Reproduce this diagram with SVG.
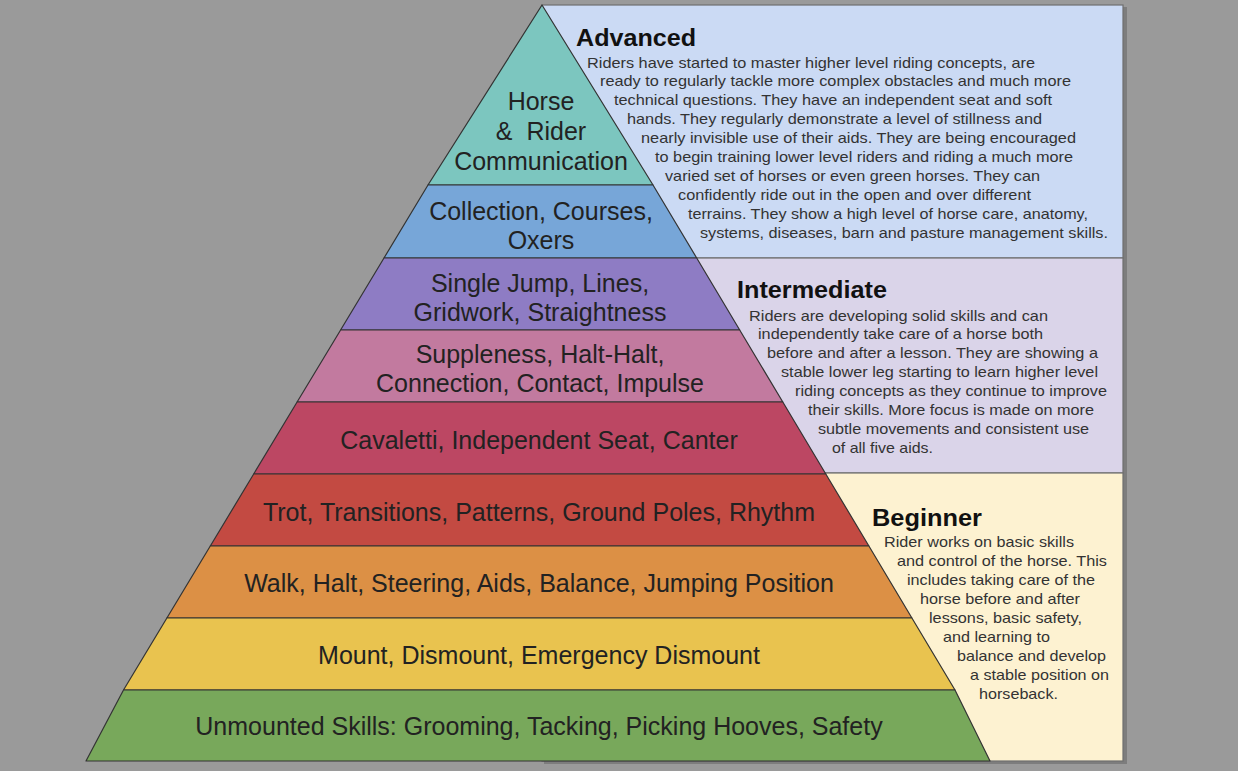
<svg xmlns="http://www.w3.org/2000/svg" width="1238" height="771" viewBox="0 0 1238 771">
<style>
.band{stroke:#333;stroke-width:1.2;stroke-linejoin:round}
.lbl{font-family:"Liberation Sans",Arial,sans-serif;font-size:25px;fill:#222;text-anchor:middle}
.hd{font-family:"Liberation Sans",Arial,sans-serif;font-size:23px;font-weight:bold;fill:#111}
.bd{font-family:"Liberation Sans",Arial,sans-serif;font-size:14.5px;fill:#333}
.panel{stroke:#6f6f6f;stroke-width:1.2}
</style>
<rect x="0" y="0" width="1238" height="771" fill="#9a9a9a"/>
<rect x="544" y="7" width="583" height="757" fill="#7d7d7d"/>
<g id="panel-advanced">
<rect class="panel" x="542" y="5" width="581" height="253" fill="#cbdaf4"/>
<text class="hd" x="576" y="46" textLength="120" lengthAdjust="spacingAndGlyphs">Advanced</text>
<g class="bd">
<text x="587" y="67.5" textLength="448" lengthAdjust="spacingAndGlyphs">Riders have started to master higher level riding concepts, are</text>
<text x="600" y="86.4" textLength="471" lengthAdjust="spacingAndGlyphs">ready to regularly tackle more complex obstacles and much more</text>
<text x="614" y="105.3" textLength="438" lengthAdjust="spacingAndGlyphs">technical questions. They have an independent seat and soft</text>
<text x="627" y="124.2" textLength="415" lengthAdjust="spacingAndGlyphs">hands. They regularly demonstrate a level of stillness and</text>
<text x="641" y="143.1" textLength="435" lengthAdjust="spacingAndGlyphs">nearly invisible use of their aids. They are being encouraged</text>
<text x="655" y="162" textLength="418" lengthAdjust="spacingAndGlyphs">to begin training lower level riders and riding a much more</text>
<text x="665" y="180.9" textLength="375" lengthAdjust="spacingAndGlyphs">varied set of horses or even green horses. They can</text>
<text x="678" y="199.8" textLength="353" lengthAdjust="spacingAndGlyphs">confidently ride out in the open and over different</text>
<text x="688" y="218.7" textLength="400" lengthAdjust="spacingAndGlyphs">terrains. They show a high level of horse care, anatomy,</text>
<text x="700" y="237.6" textLength="408" lengthAdjust="spacingAndGlyphs">systems, diseases, barn and pasture management skills.</text>
</g>
</g>
<g id="panel-intermediate">
<rect class="panel" x="542" y="258" width="581" height="215" fill="#dad4e9"/>
<text class="hd" x="737" y="298" textLength="150" lengthAdjust="spacingAndGlyphs">Intermediate</text>
<g class="bd">
<text x="749" y="320.5" textLength="299" lengthAdjust="spacingAndGlyphs">Riders are developing solid skills and can</text>
<text x="758" y="339.4" textLength="285" lengthAdjust="spacingAndGlyphs">independently take care of a horse both</text>
<text x="767" y="358.3" textLength="331" lengthAdjust="spacingAndGlyphs">before and after a lesson. They are showing a</text>
<text x="781" y="377.2" textLength="317" lengthAdjust="spacingAndGlyphs">stable lower leg starting to learn higher level</text>
<text x="795" y="396.1" textLength="312" lengthAdjust="spacingAndGlyphs">riding concepts as they continue to improve</text>
<text x="808" y="415" textLength="286" lengthAdjust="spacingAndGlyphs">their skills. More focus is made on more</text>
<text x="818" y="433.9" textLength="271" lengthAdjust="spacingAndGlyphs">subtle movements and consistent use</text>
<text x="832" y="452.8" textLength="101" lengthAdjust="spacingAndGlyphs">of all five aids.</text>
</g>
</g>
<g id="panel-beginner">
<rect class="panel" x="542" y="473" width="581" height="288" fill="#fdf2d1"/>
<text class="hd" x="872" y="526" textLength="110" lengthAdjust="spacingAndGlyphs">Beginner</text>
<g class="bd">
<text x="884" y="546.5" textLength="190" lengthAdjust="spacingAndGlyphs">Rider works on basic skills</text>
<text x="897" y="565.5" textLength="210" lengthAdjust="spacingAndGlyphs">and control of the horse. This</text>
<text x="907" y="584.5" textLength="188" lengthAdjust="spacingAndGlyphs">includes taking care of the</text>
<text x="920" y="603.5" textLength="160" lengthAdjust="spacingAndGlyphs">horse before and after</text>
<text x="929" y="622.5" textLength="153" lengthAdjust="spacingAndGlyphs">lessons, basic safety,</text>
<text x="943" y="641.5" textLength="107" lengthAdjust="spacingAndGlyphs">and learning to</text>
<text x="957" y="660.5" textLength="149" lengthAdjust="spacingAndGlyphs">balance and develop</text>
<text x="970" y="679.5" textLength="139" lengthAdjust="spacingAndGlyphs">a stable position on</text>
<text x="979" y="698.5" textLength="79" lengthAdjust="spacingAndGlyphs">horseback.</text>
</g>
</g>
<g id="band-communication">
<polygon class="band" points="542,5 653,185 428,185" fill="#7cc6bf"/>
<text class="lbl" x="541" y="110">Horse</text>
<text class="lbl" x="541" y="140">&amp;&#160; Rider</text>
<text class="lbl" x="541" y="170">Communication</text>
</g>
<g id="band-collection">
<polygon class="band" points="428,185 653,185 696.7,258 384,258" fill="#77a6d8"/>
<text class="lbl" x="541" y="220">Collection, Courses,</text>
<text class="lbl" x="541" y="249">Oxers</text>
</g>
<g id="band-jump">
<polygon class="band" points="384,258 696.7,258 739.7,330 340.6,330" fill="#8e7cc4"/>
<text class="lbl" x="540" y="292">Single Jump, Lines,</text>
<text class="lbl" x="540" y="321">Gridwork, Straightness</text>
</g>
<g id="band-suppleness">
<polygon class="band" points="340.6,330 739.7,330 782.8,402 297.1,402" fill="#c27a9f"/>
<text class="lbl" x="540" y="363">Suppleness, Halt-Halt,</text>
<text class="lbl" x="540" y="392">Connection, Contact, Impulse</text>
</g>
<g id="band-cavaletti">
<polygon class="band" points="297.1,402 782.8,402 825.8,474 253.7,474" fill="#bc4763"/>
<text class="lbl" x="539" y="449">Cavaletti, Independent Seat, Canter</text>
</g>
<g id="band-trot">
<polygon class="band" points="253.7,474 825.8,474 868.9,546 210.3,546" fill="#c34a42"/>
<text class="lbl" x="539" y="521">Trot, Transitions, Patterns, Ground Poles, Rhythm</text>
</g>
<g id="band-walk">
<polygon class="band" points="210.3,546 868.9,546 911.9,618 166.9,618" fill="#dc9045"/>
<text class="lbl" x="539" y="592">Walk, Halt, Steering, Aids, Balance, Jumping Position</text>
</g>
<g id="band-mount">
<polygon class="band" points="166.9,618 911.9,618 955,690 123.5,690" fill="#e9c34f"/>
<text class="lbl" x="539" y="664">Mount, Dismount, Emergency Dismount</text>
</g>
<g id="band-unmounted">
<polygon class="band" points="123.5,690 955,690 990,761 86,761" fill="#78a85b"/>
<text class="lbl" x="539" y="735">Unmounted Skills: Grooming, Tacking, Picking Hooves, Safety</text>
</g>
<g id="connectors"/>
</svg>
